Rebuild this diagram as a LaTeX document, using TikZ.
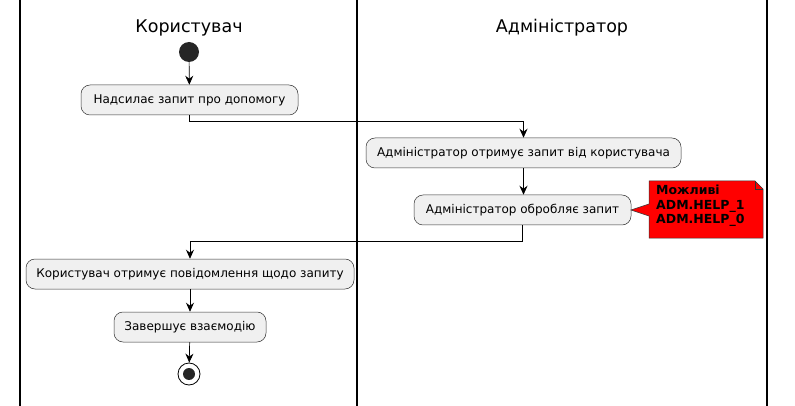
\documentclass[tikz,border=0pt]{standalone}
\usepackage{fontspec}
\setmainfont{DejaVu Sans}
\usetikzlibrary{arrows.meta}
\begin{document}
\begin{tikzpicture}[x=1pt,y=-1pt,
  act/.style={draw=black!80,fill=black!6,rounded corners=9pt,line width=0.5pt,minimum height=30pt,font=\fontsize{12}{14}\selectfont,inner xsep=8pt},
  arr/.style={line width=0.7pt,-{Stealth[length=9pt,width=8pt]}},
  lane/.style={line width=1.3pt},
  title/.style={font=\fontsize{17.5}{20}\selectfont}]
\useasboundingbox (0,0) rectangle (795,406);
\draw[lane] (20,0) -- (20,406);
\draw[lane] (357,0) -- (357,406);
\draw[lane] (767,0) -- (767,406);
\node[title] (t1) at (189,28) {Користувач};
\node[title] (t2) at (562,28) {Адміністратор};
\node[circle,fill=black!85,minimum size=20pt,inner sep=0pt] (s) at (189,52) {};
\node[act,minimum width=217pt] (b1) at (189.5,100) {Надсилає запит про допомогу};
\node[act,minimum width=315pt] (b2) at (523.5,153) {Адміністратор отримує запит від користувача};
\node[act,minimum width=217pt] (b3) at (522.5,210) {Адміністратор обробляє запит};
\node[act,minimum width=328pt] (b4) at (190,274) {Користувач отримує повідомлення щодо запиту};
\node[act,minimum width=152pt] (b5) at (190,327) {Завершує взаємодію};
\node[circle,draw=black,line width=0.8pt,minimum size=22pt,inner sep=0pt] (e) at (189,374) {};
\node[circle,fill=black!85,minimum size=12pt,inner sep=0pt] (ei) at (189,374) {};
\draw[arr] (s) -- (b1);
\draw[arr] (b1.south) -- ++(0,6) -| (b2.north);
\draw[arr] (b2.south) -- (b2.south|-b3.north);
\draw[arr] (b3.south) -- ++(0,16) -| (b4.north);
\draw[arr] (b4) -- (b5);
\draw[arr] (b5) -- (e);
\draw[fill=red,draw=black!80,line width=0.5pt] (649,181) -- (755,181) -- (763,189) -- (763,238) -- (649,238) -- (649,216) -- (631,210) -- (649,204) -- cycle;
\draw[draw=black!80,line width=0.5pt] (755,181) -- (755,189) -- (763,189);
\node[anchor=north west,align=left,font=\bfseries\fontsize{12.5}{14.5}\selectfont,inner sep=0pt] (nt) at (656,185) {Можливі\\ADM.HELP\_1\\ADM.HELP\_0};
\end{tikzpicture}
\end{document}
